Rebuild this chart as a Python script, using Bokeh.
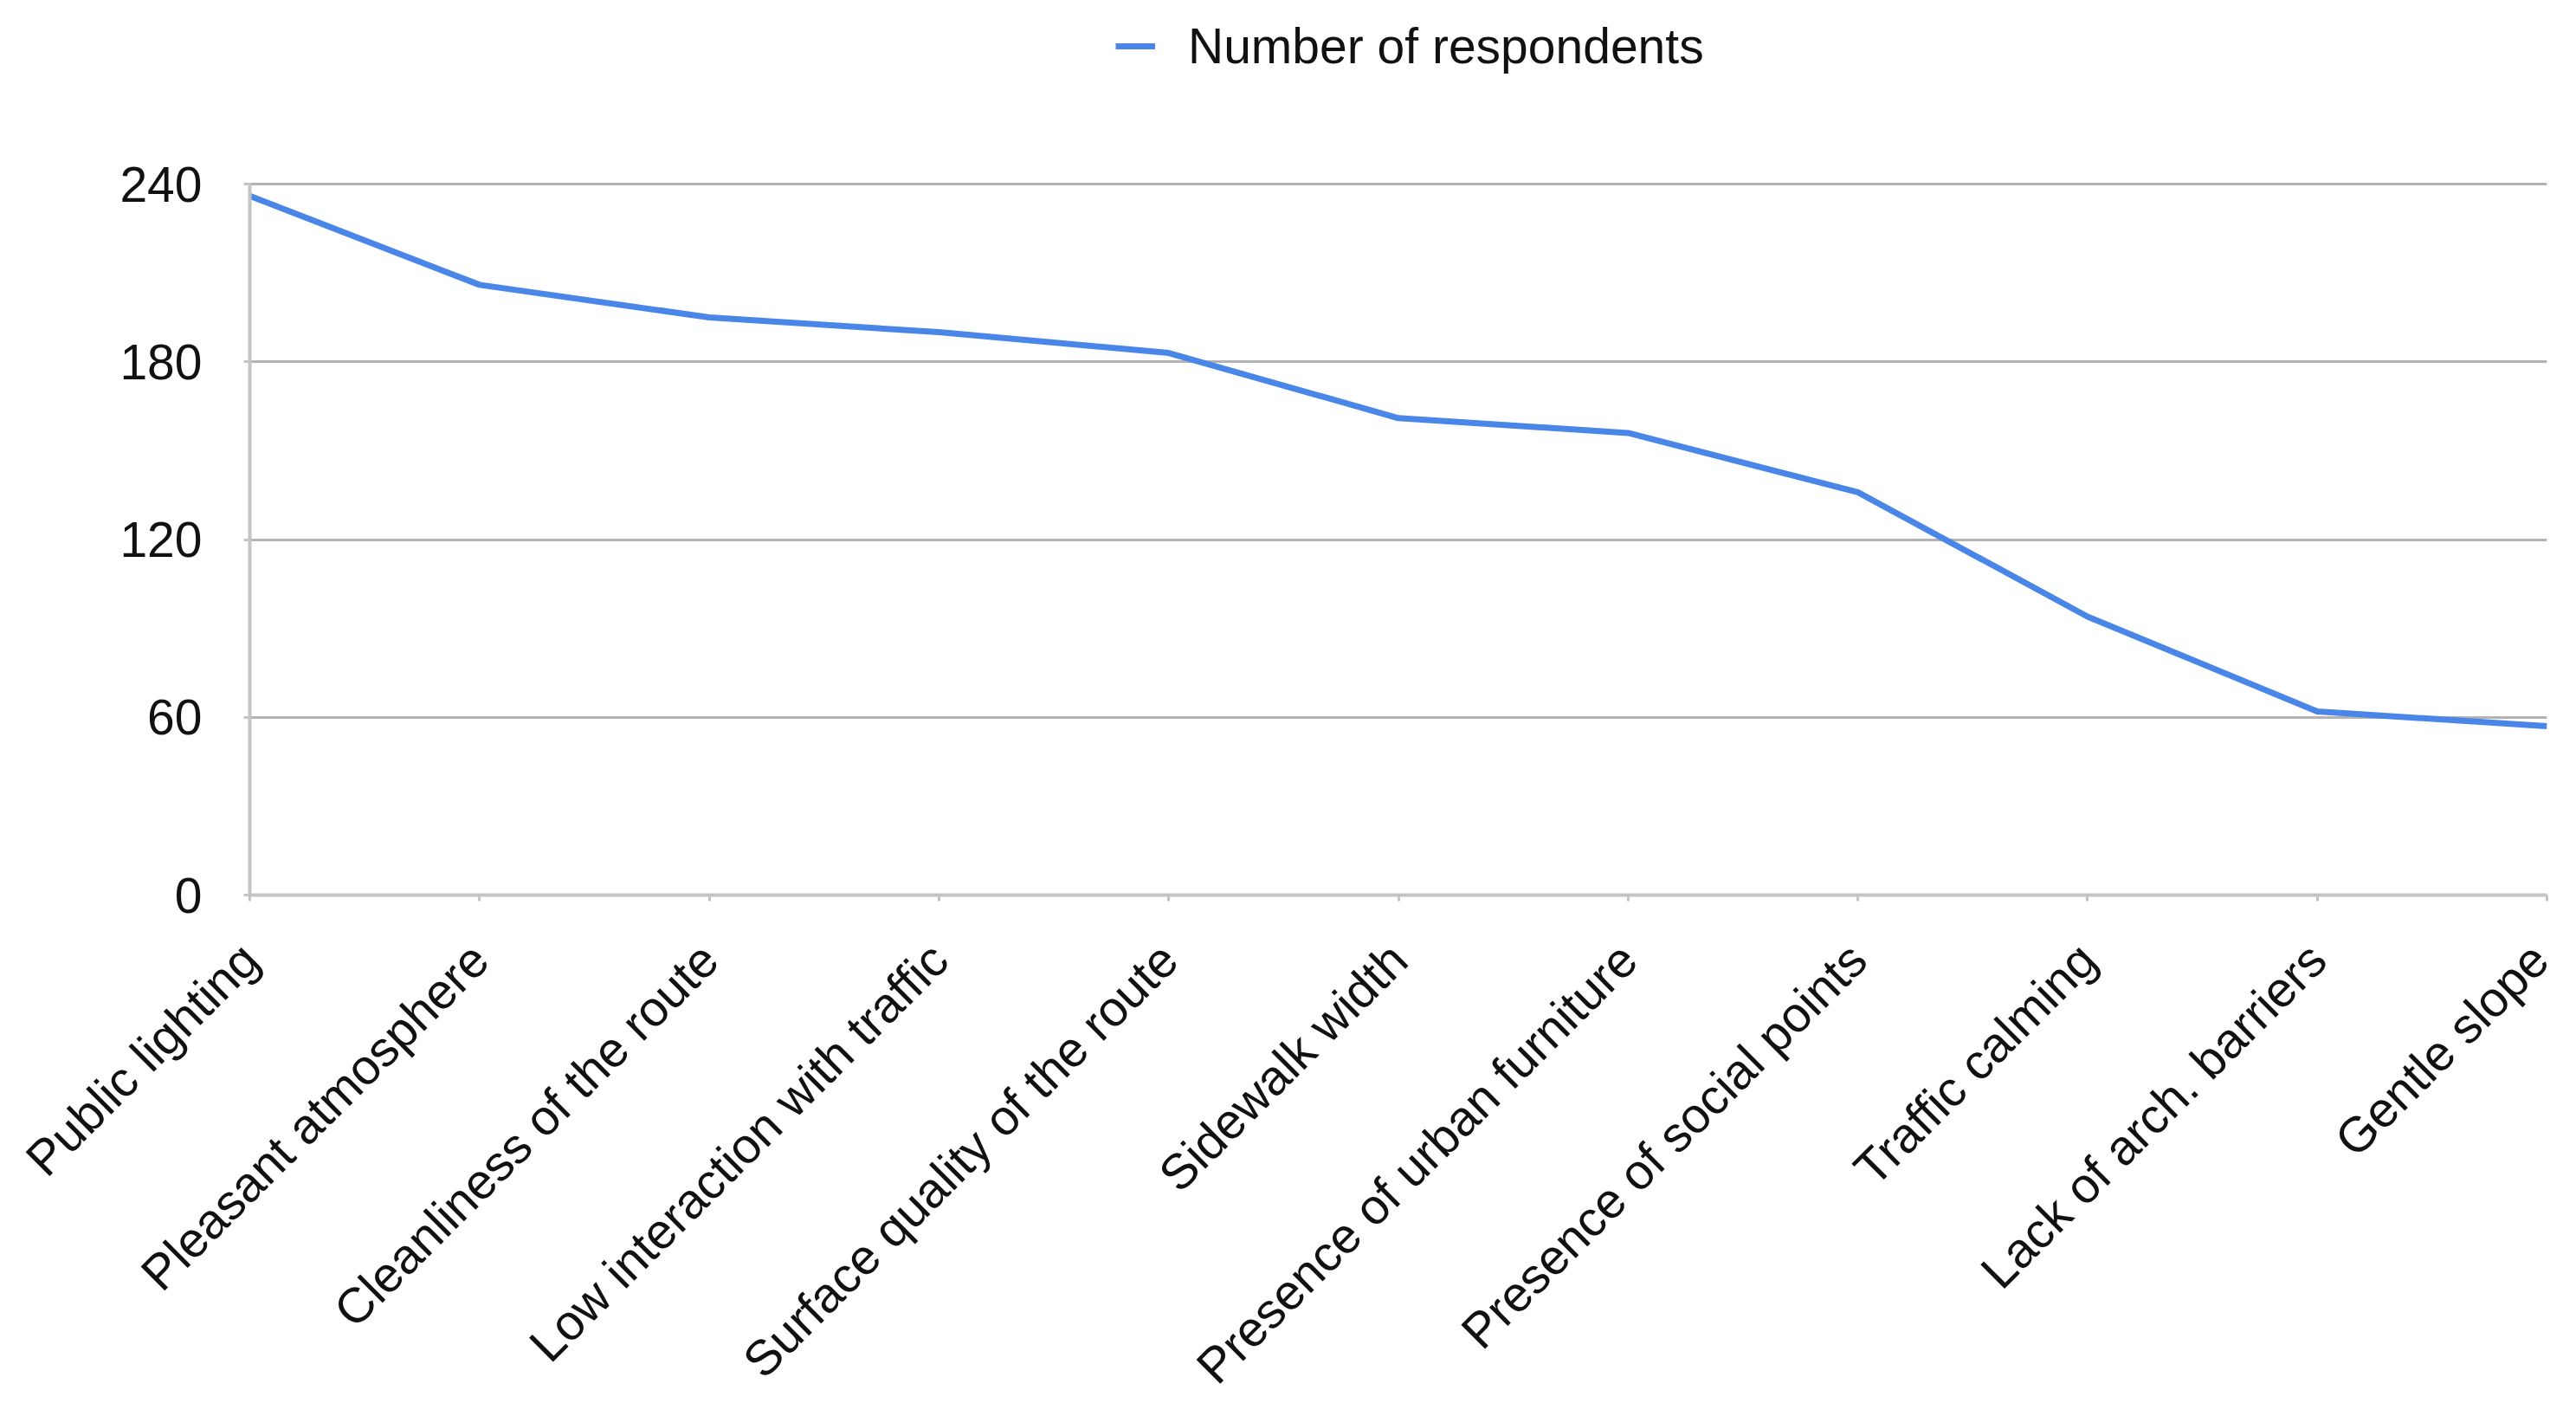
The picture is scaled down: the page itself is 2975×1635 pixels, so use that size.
from bokeh.plotting import figure
from bokeh.models import FixedTicker, Legend, LegendItem, Range1d
from bokeh.embed import file_html
from bokeh.resources import INLINE
from math import pi

categories = ["Public lighting", "Pleasant atmosphere", "Cleanliness of the route",
              "Low interaction with traffic", "Surface quality of the route",
              "Sidewalk width", "Presence of urban furniture", "Presence of social points",
              "Traffic calming", "Lack of arch. barriers", "Gentle slope"]
respondents = [236, 206, 195, 190, 183, 161, 156, 136, 94, 62, 57]
y_ticks = [0, 60, 120, 180, 240]
series_name = "Number of respondents"

FONT = "Liberation Sans"
FS = "57px"

x = list(range(len(categories)))

# frame extends up to the canvas top so the legend (drawn in the frame) is visible;
# the axis line is bounded to 0..240
p = figure(width=2955, height=1635, output_backend="svg", toolbar_location=None,
           x_range=Range1d(0, len(categories) - 1), y_range=Range1d(0, 302),
           min_border_left=288, min_border_right=14, min_border_top=0, min_border_bottom=582)
p.outline_line_color = None
p.background_fill_color = "white"
p.border_fill_color = "white"

r = p.line(x, respondents, line_color="#4a86e8", line_width=7, line_join="round")

# axes
p.xaxis.ticker = FixedTicker(ticks=x)
p.xaxis.major_label_overrides = {i: c for i, c in enumerate(categories)}
p.xaxis.major_label_orientation = pi / 4
p.yaxis.ticker = FixedTicker(ticks=y_ticks)
p.yaxis.bounds = (y_ticks[0], y_ticks[-1])

for ax in (p.xaxis, p.yaxis):
    ax.axis_line_color = "#c4c4c4"
    ax.axis_line_width = 4
    ax.major_tick_line_color = "#c4c4c4"
    ax.major_tick_line_width = 3
    ax.major_tick_in = 0
    ax.major_tick_out = 7
    ax.minor_tick_line_color = None
    ax.major_label_text_font = FONT
    ax.major_label_text_font_size = FS
    ax.major_label_text_color = "#111111"
p.yaxis.major_label_standoff = 48
p.xaxis.major_label_standoff = 58

p.xgrid.grid_line_color = None
p.ygrid.grid_line_color = "#b3b3b3"
p.ygrid.grid_line_width = 3

legend = Legend(items=[LegendItem(label=series_name, renderers=[r])],
                location=(1000, 947), orientation="horizontal",
                padding=0, margin=0, border_line_color=None, background_fill_alpha=0,
                glyph_width=46, glyph_height=40, label_standoff=38,
                label_text_font=FONT, label_text_font_size=FS, label_text_color="#111111")
p.add_layout(legend, "center")

open("out.html", "w").write(file_html(p, INLINE))
